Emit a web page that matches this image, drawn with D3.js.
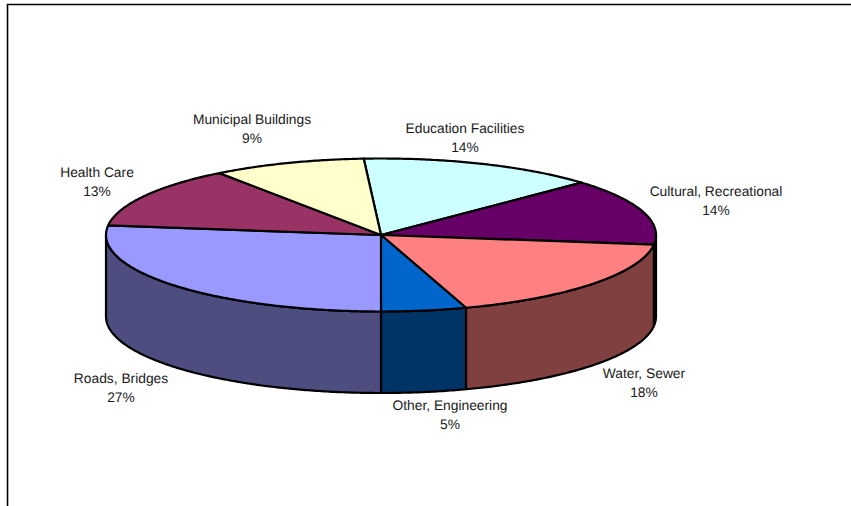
<!DOCTYPE html>
<html>
<head>
<meta charset="utf-8">
<script src="https://cdn.jsdelivr.net/npm/d3@7/dist/d3.min.js"></script>
<style>
html, body { margin: 0; padding: 0; background: #fff; }
svg { display: block; }
text { font-family: "Liberation Sans", Arial, sans-serif; font-size: 13.8px; fill: #1a1a1a; text-rendering: geometricPrecision; }
</style>
</head>
<body>
<svg id="chart" width="851" height="506"></svg>
<script>
// Capital spending by category, in clockwise drawing order
const categories = ["Education Facilities", "Cultural, Recreational", "Water, Sewer", "Other, Engineering", "Roads, Bridges", "Health Care", "Municipal Buildings"];
const shares = [14, 14, 18, 5, 27, 13, 9];
const topColors = ["#CCFFFF", "#660066", "#FF8080", "#0066CC", "#9999FF", "#993366", "#FFFFCC"];
const wallColors = ["#668080", "#330033", "#804040", "#003366", "#4D4D80", "#4D1A33", "#808066"];

// Layout of the tilted disc
const cx = 381, cy = 235, rx = 275, ry = 76.5, depth = 81.5;
const firstAngle = -3.6 * Math.PI / 180;

// Label centres, one per category
const labelX = [465, 716, 644, 450, 121, 97, 252];
const labelY = [128, 191, 373, 405, 378, 172, 119];
const lineGap = 19;

const svg = d3.select("#chart");

// Chart area frame: only the top and left edges fall inside the window
svg.append("path")
  .attr("d", "M7.5,506V4.5H851")
  .attr("fill", "none").attr("stroke", "#000").attr("stroke-width", 1.6);

const arcs = d3.pie().sort(null).startAngle(firstAngle).endAngle(firstAngle + 2 * Math.PI)(shares);

// Angles are measured clockwise from twelve o'clock and projected onto the ellipse
const scaleX = d3.scaleLinear().domain([-1, 1]).range([cx - rx, cx + rx]);
const scaleY = d3.scaleLinear().domain([-1, 1]).range([cy - ry, cy + ry]);
const px = a => scaleX(Math.sin(a));
const py = a => scaleY(-Math.cos(a));
const line = d3.line();

function rimPoints(a0, a1, drop) {
  const n = Math.max(2, Math.ceil(Math.abs(a1 - a0) / 0.01));
  return d3.range(n + 1).map(i => {
    const a = a0 + (a1 - a0) * i / n;
    return [px(a), py(a) + drop];
  });
}

// Walls: only the part of each slice on the near side of the disc is visible
const stroke = "#000", strokeW = 2.2;
const nearStart = Math.PI / 2, nearEnd = 3 * Math.PI / 2;
arcs.forEach((d, i) => {
  const a0 = Math.max(d.startAngle, nearStart);
  const a1 = Math.min(d.endAngle, nearEnd);
  if (a1 <= a0) return;
  const pts = rimPoints(a0, a1, 0).concat(rimPoints(a1, a0, depth));
  svg.append("path")
    .attr("d", line(pts) + "Z")
    .attr("fill", wallColors[i])
    .attr("stroke", stroke).attr("stroke-width", strokeW).attr("stroke-linejoin", "round");
});

// Top faces
arcs.forEach((d, i) => {
  const pts = [[cx, cy]].concat(rimPoints(d.startAngle, d.endAngle, 0));
  svg.append("path")
    .attr("d", line(pts) + "Z")
    .attr("fill", topColors[i])
    .attr("stroke", stroke).attr("stroke-width", strokeW).attr("stroke-linejoin", "round");
});

// Category name with its percentage beneath
categories.forEach((name, i) => {
  const t = svg.append("text").attr("text-anchor", "middle");
  t.append("tspan").attr("x", labelX[i]).attr("y", labelY[i] + 5).text(name);
  t.append("tspan").attr("x", labelX[i]).attr("y", labelY[i] + 5 + lineGap).text(shares[i] + "%");
});
</script>
</body>
</html>
